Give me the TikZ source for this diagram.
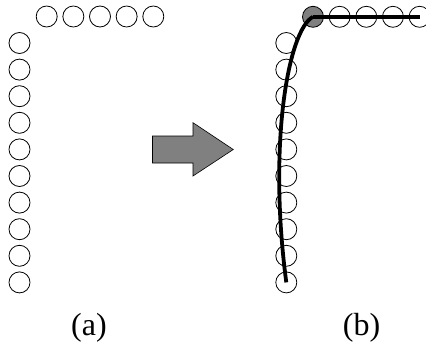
\documentclass[tikz,border=0pt]{standalone}
\usepackage{fontspec}
\setmainfont{Liberation Serif}
\begin{document}
\begin{tikzpicture}[x=1pt,y=-1pt,
  dot/.style={circle,draw=black,line width=0.8pt,minimum size=21pt,inner sep=0pt},
  hub/.style={dot,fill=gray},
  trace/.style={line width=3.8pt,black},
  blockarrow/.style={fill=gray,draw=black,line width=0.6pt},
  lbl/.style={font=\fontsize{32}{36}\selectfont,inner sep=0pt}]
\useasboundingbox (0,0) rectangle (426,345);
% (a): vertical column of ten circles and a row of five
\foreach \k in {0,...,9}
  \node[dot] (la\k) at (19.5,{43+26.6*\k}) {};
\foreach \k in {0,...,4}
  \node[dot] (ta\k) at ({46.7+26.65*\k},16.5) {};
% block arrow between the panels
\draw[blockarrow]
  (152.5,136) -- (193,136) -- (193,122.7) -- (233.3,149.5) -- (193,176)
  -- (193,163) -- (152.5,163) -- cycle;
% (b): same circles, the row starting from a shaded hub
\foreach \k in {0,...,9}
  \node[dot] (lb\k) at (286.3,{43+26.6*\k}) {};
\node[hub] (hb) at (313,16.8) {};
\foreach \k in {1,...,4}
  \node[dot] (tb\k) at ({313+26.65*\k},16.8) {};
% fitted curve through the column and the straight run along the row
\draw[trace] (hb.center) -- (tb4.center);
\draw[trace] (hb.center) .. controls (288,30) and (268,145) .. (lb9.center);
% panel labels
\node[lbl] (capa) at (89,328) {(a)};
\node[lbl] (capb) at (361.5,328) {(b)};
\end{tikzpicture}
\end{document}
